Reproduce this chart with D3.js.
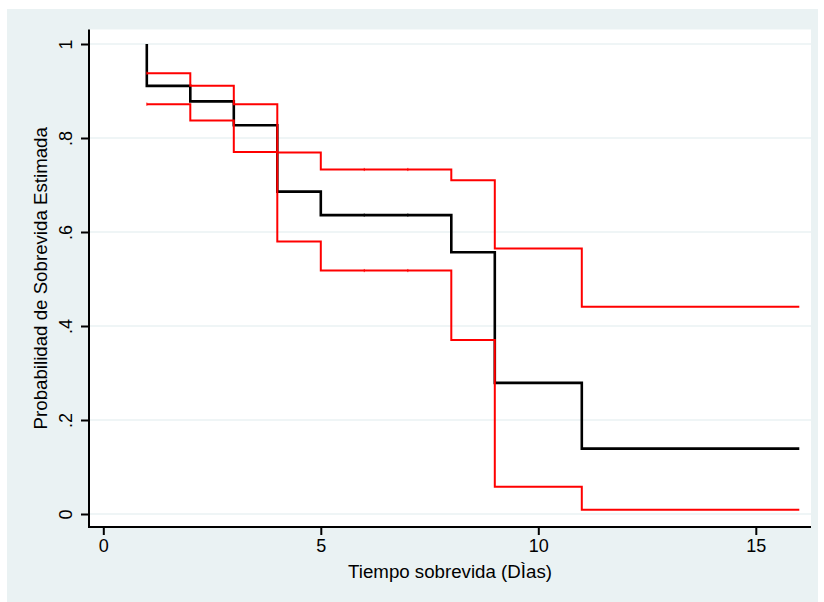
<!DOCTYPE html>
<html>
<head>
<meta charset="utf-8">
<script src="https://cdn.jsdelivr.net/npm/d3@7"></script>
<style>
  html, body { margin: 0; padding: 0; background: #ffffff; }
  svg { display: block; font-family: "Liberation Sans", Arial, Helvetica, sans-serif; }
</style>
</head>
<body>
<svg id="chart" width="824" height="602"></svg>
<script>
// Kaplan-Meier survivor function with 95% confidence band
const times    = [1, 2, 3, 4, 5, 6, 7, 8, 9, 11, 16];
const survival = [0.911, 0.878, 0.827, 0.686, 0.636, 0.636, 0.636, 0.557, 0.279, 0.139, 0.139];
const upperCI  = [0.938, 0.911, 0.872, 0.769, 0.733, 0.733, 0.733, 0.710, 0.565, 0.441, 0.441];
const lowerCI  = [0.872, 0.837, 0.770, 0.580, 0.518, 0.518, 0.518, 0.370, 0.058, 0.009, 0.009];
const startSurvival = 1;

const xTicks = [0, 5, 10, 15];
const yTicks = [0, 0.2, 0.4, 0.6, 0.8, 1];
const yTickLabels = ["0", ".2", ".4", ".6", ".8", "1"];
const xTitle = "Tiempo sobrevida (DÌas)";
const yTitle = "Probabilidad de Sobrevida Estimada";

const svg = d3.select("#chart");
const bg = "#eaf2f3";

// outer graph region and white plot region
svg.append("rect").attr("x", 7).attr("y", 9).attr("width", 811).attr("height", 593).attr("fill", bg);
const plot = { left: 89, right: 811, top: 29.5, bottom: 527 };
svg.append("rect").attr("x", plot.left).attr("y", plot.top)
  .attr("width", plot.right - plot.left).attr("height", plot.bottom - plot.top).attr("fill", "#ffffff");

const x = d3.scaleLinear().domain([0, 16]).range([103.3, 799.3]);
const y = d3.scaleLinear().domain([0, 1]).range([514, 44]);

// horizontal gridlines
svg.append("g").selectAll("line").data(yTicks).join("line")
  .attr("x1", plot.left).attr("x2", plot.right)
  .attr("y1", d => y(d)).attr("y2", d => y(d))
  .attr("stroke", bg).attr("stroke-width", 1.6);

// y axis
const yAxis = d3.axisLeft(y).tickValues(yTicks).tickSize(8).tickPadding(9)
  .tickFormat((d, i) => yTickLabels[i]);
const gy = svg.append("g").attr("transform", `translate(${plot.left},0)`).call(yAxis);
gy.select(".domain").remove();
gy.append("line").attr("x1", 0).attr("x2", 0).attr("y1", plot.top).attr("y2", plot.bottom + 1)
  .attr("stroke", "#000").attr("stroke-width", 2);
gy.selectAll(".tick line").attr("stroke", "#000").attr("stroke-width", 2);
gy.selectAll(".tick text")
  .attr("font-size", 18).attr("fill", "#000")
  .attr("text-anchor", "middle").attr("dy", 0).attr("x", 0)
  .attr("transform", "translate(-17,0) rotate(-90)");

// x axis
const xAxis = d3.axisBottom(x).tickValues(xTicks).tickSize(8).tickPadding(4).tickFormat(d3.format("d"));
const gx = svg.append("g").attr("transform", `translate(0,${plot.bottom})`).call(xAxis);
gx.select(".domain").remove();
gx.append("line").attr("x1", plot.left - 1).attr("x2", plot.right).attr("y1", 0).attr("y2", 0)
  .attr("stroke", "#000").attr("stroke-width", 2);
gx.selectAll(".tick line").attr("stroke", "#000").attr("stroke-width", 2);
gx.selectAll(".tick text").attr("font-size", 18).attr("fill", "#000");

// axis titles
svg.append("text").attr("x", (plot.left + plot.right) / 2).attr("y", 578)
  .attr("text-anchor", "middle").attr("font-size", 18.7).attr("fill", "#000").text(xTitle);
svg.append("text").attr("transform", `translate(46.5,${(plot.top + plot.bottom) / 2}) rotate(-90)`)
  .attr("text-anchor", "middle").attr("font-size", 18.7).attr("fill", "#000").text(yTitle);

// step lines
const step = d3.line().x(d => x(d[0])).y(d => y(d[1])).curve(d3.curveStepAfter);
const survPts = [[times[0], startSurvival]].concat(times.map((t, i) => [t, survival[i]]));
const upPts = times.map((t, i) => [t, upperCI[i]]);
const loPts = times.map((t, i) => [t, lowerCI[i]]);

svg.append("path").attr("d", step(survPts)).attr("fill", "none")
  .attr("stroke", "#000").attr("stroke-width", 2.6).attr("stroke-linejoin", "miter");
[upPts, loPts].forEach(pts => {
  svg.append("path").attr("d", step(pts)).attr("fill", "none")
    .attr("stroke", "#ff0000").attr("stroke-width", 2).attr("stroke-linejoin", "miter");
});

// faint joint marks at intermediate observation times
const joints = [];
times.forEach((t, i) => {
  if (i > 0 && i < times.length - 1 && survival[i] === survival[i - 1]) {
    joints.push([t, survival[i], "#000"], [t, upperCI[i], "#ff0000"], [t, lowerCI[i], "#ff0000"]);
  }
});
joints.push([times[0], upperCI[0], "#ff0000"], [times[0], lowerCI[0], "#ff0000"]);
svg.append("g").selectAll("rect").data(joints).join("rect")
  .attr("x", d => x(d[0]) - 0.6).attr("y", d => y(d[1]) - 1.6)
  .attr("width", 1.2).attr("height", 3.2).attr("fill", d => d[2]).attr("opacity", 0.7);
</script>
</body>
</html>
